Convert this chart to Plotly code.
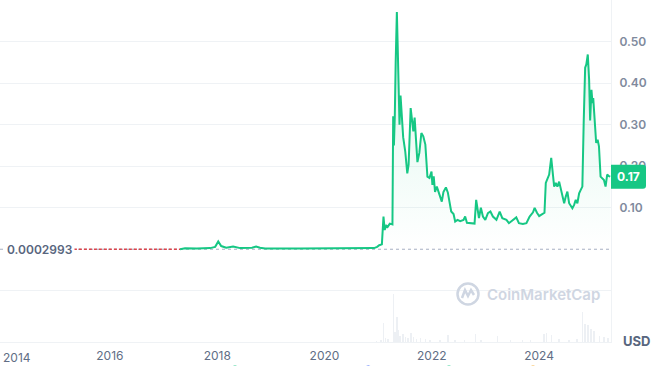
import plotly.graph_objects as go

# ---------------- data ----------------
start_price = 0.0002993
last_price_label = "0.17"

early_dates = ["2015-03-28", "2015-09-01", "2016-03-01", "2016-09-01", "2017-04-23"]
early_values = [0.0003, 0.0003, 0.0003, 0.0003, 0.0003]

price_dates = [
    "2017-04-23", "2017-05-27", "2017-08-15", "2017-10-11", "2017-11-14", "2017-12-18",
    "2018-01-08", "2018-01-28", "2018-03-03", "2018-04-19", "2018-06-06", "2018-08-26",
    "2018-09-23", "2018-10-19", "2018-11-23", "2019-07-19", "2020-02-08", "2020-08-31",
    "2020-12-04", "2020-12-25", "2021-01-08", "2021-01-26", "2021-02-06", "2021-02-14",
    "2021-02-25", "2021-03-06", "2021-03-21", "2021-04-08", "2021-04-13", "2021-04-18",
    "2021-04-24", "2021-04-30", "2021-05-08", "2021-05-13", "2021-05-19", "2021-05-26",
    "2021-06-02", "2021-06-11", "2021-06-20", "2021-07-04", "2021-07-18", "2021-07-27",
    "2021-08-10", "2021-08-19", "2021-08-28", "2021-09-06", "2021-09-16", "2021-09-25",
    "2021-10-08", "2021-10-22", "2021-11-04", "2021-11-18", "2021-12-02", "2021-12-16",
    "2021-12-30", "2022-01-05", "2022-01-14", "2022-01-23", "2022-02-04", "2022-02-15",
    "2022-02-26", "2022-03-10", "2022-03-21", "2022-04-07", "2022-04-20", "2022-04-29",
    "2022-05-13", "2022-05-29", "2022-06-09", "2022-06-25", "2022-07-13", "2022-08-05",
    "2022-08-16", "2022-08-28", "2022-09-20", "2022-10-19", "2022-10-30", "2022-11-08",
    "2022-11-18", "2022-12-01", "2022-12-15", "2022-12-31", "2023-01-18", "2023-02-04",
    "2023-02-21", "2023-03-17", "2023-04-08", "2023-04-26", "2023-05-24", "2023-06-10",
    "2023-07-07", "2023-07-30", "2023-08-17", "2023-09-13", "2023-10-07", "2023-10-29",
    "2023-11-21", "2023-12-02", "2023-12-18", "2024-01-02", "2024-01-20", "2024-02-07",
    "2024-02-16", "2024-02-27", "2024-03-10", "2024-03-24", "2024-04-01", "2024-04-13",
    "2024-04-24", "2024-05-05", "2024-05-17", "2024-05-28", "2024-06-09", "2024-06-20",
    "2024-07-01", "2024-07-12", "2024-07-24", "2024-08-04", "2024-08-15", "2024-08-27",
    "2024-09-07", "2024-09-18", "2024-09-30", "2024-10-11", "2024-10-22", "2024-10-31",
    "2024-11-10", "2024-11-18", "2024-11-28", "2024-12-07", "2024-12-14", "2024-12-23",
    "2024-12-30", "2025-01-04", "2025-01-14", "2025-01-24", "2025-02-03", "2025-02-12",
    "2025-02-23", "2025-03-07", "2025-03-18", "2025-03-29", "2025-04-09", "2025-04-21",
    "2025-04-30",
]
price_values = [
    0.0005, 0.0025, 0.002, 0.002, 0.003, 0.006,
    0.019, 0.008, 0.004, 0.007, 0.003, 0.004,
    0.007, 0.004, 0.002, 0.002, 0.002, 0.003,
    0.003, 0.006, 0.010, 0.012, 0.079, 0.047,
    0.057, 0.054, 0.062, 0.060, 0.320, 0.250,
    0.320, 0.450, 0.571, 0.500, 0.365, 0.300,
    0.370, 0.308, 0.270, 0.236, 0.183, 0.204,
    0.340, 0.312, 0.284, 0.317, 0.252, 0.210,
    0.232, 0.280, 0.272, 0.252, 0.175, 0.172,
    0.187, 0.155, 0.176, 0.138, 0.151, 0.138,
    0.131, 0.115, 0.138, 0.149, 0.137, 0.115,
    0.091, 0.085, 0.067, 0.071, 0.068, 0.071,
    0.079, 0.064, 0.063, 0.062, 0.119, 0.096,
    0.075, 0.100, 0.079, 0.071, 0.087, 0.091,
    0.079, 0.071, 0.091, 0.075, 0.071, 0.063,
    0.071, 0.077, 0.063, 0.061, 0.063, 0.079,
    0.089, 0.100, 0.088, 0.080, 0.084, 0.088,
    0.160, 0.171, 0.180, 0.220, 0.184, 0.151,
    0.160, 0.151, 0.163, 0.147, 0.131, 0.111,
    0.127, 0.139, 0.111, 0.103, 0.099, 0.107,
    0.119, 0.111, 0.135, 0.143, 0.151, 0.304,
    0.437, 0.445, 0.469, 0.408, 0.310, 0.384,
    0.352, 0.364, 0.312, 0.256, 0.264, 0.248,
    0.175, 0.171, 0.167, 0.151, 0.180, 0.176,
    0.175,
]

volume_dates = [
    "2020-12-20", "2021-01-20", "2021-02-06", "2021-02-18", "2021-03-10", "2021-04-15",
    "2021-04-24", "2021-05-08", "2021-05-16", "2021-05-30", "2021-06-18", "2021-07-04",
    "2021-07-24", "2021-08-12", "2021-08-28", "2021-09-17", "2021-10-15", "2021-11-18",
    "2021-12-20", "2022-02-26", "2022-04-20", "2022-06-09", "2022-08-10", "2022-10-24",
    "2022-12-01", "2023-03-26", "2023-06-20", "2023-09-10", "2023-11-05", "2024-02-04",
    "2024-02-22", "2024-03-24", "2024-05-17", "2024-07-24", "2024-09-15", "2024-10-22",
    "2024-11-10", "2024-11-28", "2024-12-21", "2025-01-10", "2025-02-14", "2025-03-18",
    "2025-04-15",
]
volume_values = [
    1, 2, 19, 4, 3, 48,
    10, 25, 12, 6, 8, 5,
    4, 9, 5, 3, 4, 3,
    2, 2, 7, 2, 2, 8,
    2, 6, 2, 2, 2, 8,
    9, 7, 3, 2, 3, 30,
    18, 17, 13, 11, 6, 5,
    4,
]

event_dates = ["2018-05-02", "2020-10-25", "2022-04-28", "2023-11-21"]
event_colors = ["#16c784", "#3861fb", "#16c784", "#f5a623"]

y_ticks = [-0.1, 0.1, 0.2, 0.3, 0.4, 0.5, 0.6]
y_tick_text = ["", "0.10", "0.20", "0.30", "0.40", "0.50", ""]
x_tick_dates = ["2016-01-01", "2018-01-01", "2020-01-01", "2022-01-01", "2024-01-01"]
x_tick_text = ["2016", "2018", "2020", "2022", "2024"]
first_year_label = "2014"

# ---------------- figure ----------------
GREEN = "#16c784"
GRID = "#eff2f5"
FONT = "Inter"

fig = go.Figure()

fig.add_trace(go.Bar(
    x=volume_dates, y=volume_values, yaxis="y2",
    marker=dict(color="#edf0f4", line=dict(width=0)),
    width=3 * 86400000, hoverinfo="skip", showlegend=False,
))

fig.add_trace(go.Scatter(
    x=price_dates, y=price_values, mode="lines",
    line=dict(color=GREEN, width=2),
    fill="tozeroy",
    fillgradient=dict(type="vertical",
                      colorscale=[[0, "rgba(22,199,132,0.0)"], [1, "rgba(22,199,132,0.17)"]]),
    showlegend=False, hoverinfo="skip",
))

fig.add_trace(go.Scatter(
    x=early_dates, y=early_values, mode="lines",
    line=dict(color="#d9434b", width=1.5, dash="3px,2px"),
    showlegend=False, hoverinfo="skip",
))

x_range = ["2013-12-14", "2025-05-05"]

shapes = [
    # dotted baseline at the start price
    dict(type="line", xref="paper", yref="y", x0=0, x1=1, y0=start_price, y1=start_price,
         line=dict(color="#a6b0c3", width=1, dash="dot"), layer="below"),
    # badge
    dict(type="path", xref="paper", yref="y", xsizemode="pixel", ysizemode="pixel",
         xanchor=1, yanchor=0.175,
         path="M 0 -12 L 32 -12 Q 35 -12 35 -9 L 35 9 Q 35 12 32 12 L 0 12 Z",
         fillcolor=GREEN, line=dict(width=0), layer="above"),
    # watermark logo circle
    dict(type="circle", xref="paper", yref="paper", xsizemode="pixel", ysizemode="pixel",
         xanchor=468 / 611, yanchor=(342 - 294) / 342,
         x0=-10.5, x1=10.5, y0=-10.5, y1=10.5,
         line=dict(color="#cfd6e2", width=2.5), fillcolor="rgba(0,0,0,0)", layer="above"),
    dict(type="path", xref="paper", yref="paper", xsizemode="pixel", ysizemode="pixel",
         xanchor=468 / 611, yanchor=(342 - 294) / 342,
         path="M -6 -4 L -3 4 L 0 -2 L 3 4 L 6 -1",
         line=dict(color="#cfd6e2", width=2.5), layer="above"),
]
for d, c in zip(event_dates, event_colors):
    shapes.append(dict(type="circle", xref="x", yref="paper", xsizemode="pixel", ysizemode="pixel",
                       xanchor=d, yanchor=(342 - 369) / 342, x0=-3.5, x1=3.5, y0=-3.5, y1=3.5,
                       fillcolor=c, line=dict(width=0)))

annotations = [
    dict(text="0.0002993", xref="paper", yref="y", x=5 / 611, y=start_price,
         xanchor="left", yanchor="middle", showarrow=False, bgcolor="white",
         font=dict(family=FONT, size=12, color="#58667e", weight=600), borderpad=1),
    dict(text=last_price_label, xref="paper", yref="y", x=1, y=0.175, xshift=17.5,
         xanchor="center", yanchor="middle", showarrow=False,
         font=dict(family=FONT, size=12, color="white", weight=700)),
    dict(text="USD", xref="paper", yref="paper", x=1, y=(342 - 341) / 342, xshift=25,
         xanchor="center", yanchor="middle", showarrow=False,
         font=dict(family=FONT, size=13, color="#58667e", weight=700)),
    dict(text="CoinMarketCap", xref="paper", yref="paper", x=485 / 611, y=(342 - 294) / 342,
         xanchor="left", yanchor="middle", showarrow=False,
         font=dict(family=FONT, size=15, color="#cfd6e2", weight=600)),
    dict(text=first_year_label, xref="paper", yref="paper", x=1 / 611, y=0, yshift=-15,
         xanchor="left", yanchor="middle", showarrow=False,
         font=dict(family=FONT, size=12, color="#616e85")),
]

fig.update_layout(
    width=660, height=366,
    margin=dict(l=0, r=49, t=0, b=24),
    paper_bgcolor="white", plot_bgcolor="white",
    font=dict(family=FONT),
    xaxis=dict(type="date", range=x_range, showgrid=False, zeroline=False,
               tickvals=x_tick_dates, ticktext=x_tick_text, ticks="",
               tickfont=dict(family=FONT, size=12, color="#616e85"),
               showline=True, linecolor="#eff2f5", linewidth=1, ticklabelstandoff=3),
    yaxis=dict(range=[-0.2229, 0.6], side="right", tickvals=y_ticks, ticktext=y_tick_text,
               showgrid=True, gridcolor=GRID, gridwidth=1, zeroline=False, ticks="",
               tickfont=dict(family=FONT, size=12, color="#808a9d", weight=600),
               showline=True, linecolor="#eff2f5", linewidth=1, ticklabelstandoff=5),
    yaxis2=dict(domain=[0, 51 / 342], range=[0, 51], anchor="x", visible=False),
    bargap=0,
    shapes=shapes,
    annotations=annotations,
)

fig.write_html("out.html")
